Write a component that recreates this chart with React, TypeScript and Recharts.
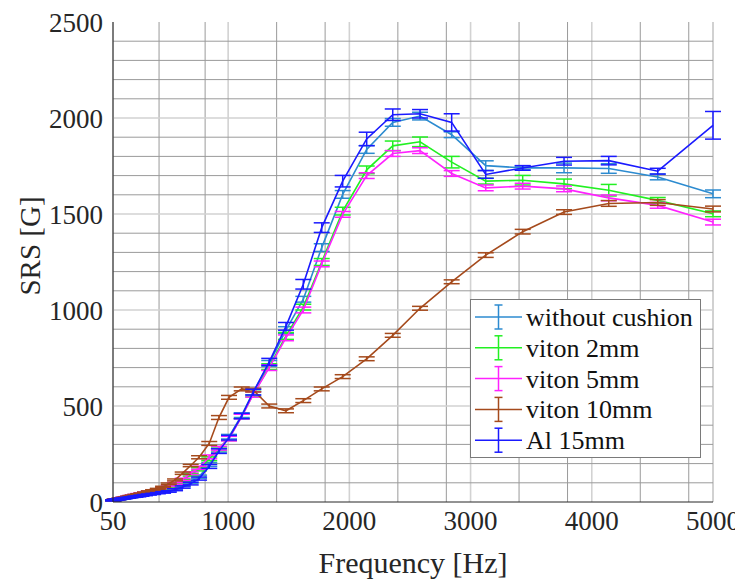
import { LineChart, Line, XAxis, YAxis, CartesianGrid, ErrorBar, ReferenceLine } from 'recharts'

const freqs = [
  50, 55, 61, 67, 74, 81, 90, 99, 109, 120, 132, 145, 160, 176, 194, 213, 235, 259, 285, 314,
  346, 381, 420, 463, 510, 562, 625, 691, 760, 844, 924, 1007, 1112, 1207, 1339, 1477, 1620, 1772, 1945, 2143,
  2358, 2583, 2844, 3125, 3430, 3771, 4140, 4544, 5000,
]

const withoutCushion = [
  9, 9, 10, 11, 12, 13, 14, 15, 16, 18, 19, 20, 22, 24, 26, 28, 30, 33, 36, 39,
  43, 47, 51, 56, 63, 72, 86, 105, 132, 195, 270, 340, 452, 572, 722, 895, 1056, 1325, 1602, 1836,
  1977, 2010, 1913, 1752, 1740, 1740, 1737, 1693, 1605,
]
const withoutCushionErr = [
  2, 2, 2, 2, 2, 2, 2, 2, 2, 2, 2, 2, 2, 2, 2, 2, 2, 2, 2, 2,
  3, 3, 3, 4, 4, 5, 6, 7, 8, 10, 10, 12, 12, 14, 15, 18, 15, 20, 20, 20,
  20, 20, 15, 25, 10, 25, 25, 15, 20,
]

const viton2 = [
  9, 10, 11, 12, 13, 14, 15, 16, 18, 19, 21, 23, 25, 28, 31, 34, 37, 40, 44, 48,
  53, 58, 63, 70, 80, 92, 112, 142, 170, 225, 278, 332, 446, 562, 705, 865, 1015, 1250, 1515, 1730,
  1855, 1876, 1770, 1671, 1676, 1657, 1624, 1571, 1501,
]
const viton2Err = [
  2, 2, 2, 2, 2, 2, 2, 2, 2, 2, 2, 2, 2, 2, 2, 2, 2, 2, 2, 2,
  3, 3, 3, 4, 4, 5, 6, 7, 8, 10, 10, 12, 12, 14, 15, 18, 15, 18, 20, 20,
  25, 25, 30, 15, 25, 25, 30, 15, 15,
]

const viton5 = [
  9, 10, 11, 12, 13, 14, 15, 17, 18, 20, 22, 24, 26, 29, 32, 35, 38, 42, 46, 50,
  55, 60, 66, 74, 85, 97, 118, 150, 178, 235, 280, 330, 445, 560, 700, 855, 1000, 1240, 1498, 1700,
  1815, 1830, 1711, 1636, 1645, 1631, 1584, 1545, 1458,
]
const viton5Err = [
  2, 2, 2, 2, 2, 2, 2, 2, 2, 2, 2, 2, 2, 2, 2, 2, 2, 2, 2, 2,
  3, 3, 3, 4, 4, 5, 6, 7, 8, 10, 10, 12, 12, 14, 15, 15, 15, 15, 15, 15,
  15, 15, 15, 15, 15, 15, 15, 15, 15,
]

const viton10 = [
  9, 10, 11, 12, 13, 14, 15, 16, 18, 19, 21, 23, 25, 28, 31, 34, 37, 41, 45, 50,
  55, 61, 68, 78, 95, 115, 150, 190, 233, 305, 440, 545, 589, 583, 500, 475, 528, 589, 653, 746,
  868, 1009, 1147, 1286, 1408, 1510, 1555, 1560, 1526,
]
const viton10Err = [
  2, 2, 2, 2, 2, 2, 2, 2, 2, 2, 2, 2, 2, 2, 2, 2, 2, 2, 2, 2,
  3, 3, 3, 4, 4, 5, 6, 6, 8, 10, 10, 10, 10, 10, 10, 10, 10, 10, 10, 10,
  10, 10, 10, 12, 12, 12, 15, 15, 15,
]

const al15 = [
  8, 9, 10, 11, 12, 13, 14, 15, 16, 17, 18, 19, 21, 22, 24, 26, 28, 30, 33, 36,
  39, 42, 46, 50, 55, 64, 78, 96, 122, 185, 265, 335, 448, 572, 730, 915, 1134, 1429, 1671, 1891,
  2017, 2022, 1977, 1706, 1740, 1775, 1778, 1723, 1962,
]
const al15Err = [
  2, 2, 2, 2, 2, 2, 2, 2, 2, 2, 2, 2, 2, 2, 2, 2, 3, 3, 3, 3,
  3, 3, 3, 4, 4, 5, 6, 7, 8, 10, 12, 12, 14, 15, 18, 20, 25, 25, 30, 35,
  30, 22, 45, 20, 12, 20, 22, 15, 72,
]

const xTicks = [50, 1000, 2000, 3000, 4000, 5000]
const xMinorTicks = [240, 430, 620, 810, 1200, 1400, 1600, 1800, 2200, 2400, 2600, 2800, 3200, 3400, 3600, 3800, 4200, 4400, 4600, 4800]
const yTicks = [0, 500, 1000, 1500, 2000, 2500]
const yMinorTicks = [100, 200, 300, 400, 600, 700, 800, 900, 1100, 1200, 1300, 1400, 1600, 1700, 1800, 1900, 2100, 2200, 2300, 2400]

const series = [
  { key: 'wc', name: 'without cushion', color: '#2c8bd0' },
  { key: 'v2', name: 'viton 2mm', color: '#22f022' },
  { key: 'v5', name: 'viton 5mm', color: '#ff22ff' },
  { key: 'v10', name: 'viton 10mm', color: '#a54a1c' },
  { key: 'al', name: 'Al 15mm', color: '#1a1aff' },
]

const rows = freqs.map((f, i) => ({
  f,
  wc: withoutCushion[i], wcErr: withoutCushionErr[i],
  v2: viton2[i], v2Err: viton2Err[i],
  v5: viton5[i], v5Err: viton5Err[i],
  v10: viton10[i], v10Err: viton10Err[i],
  al: al15[i], alErr: al15Err[i],
}))

const FONT = 'Liberation Serif, DejaVu Serif, serif'
const INK = '#262626'
const MINOR = '#9a9a9a'
const MAJOR = '#d2d2d2'

function ChartLegend() {
  return (
    <svg width={231} height={159} style={{ position: 'absolute', left: 462, top: 291 }}>
      <rect x={0.5} y={0.5} width={230} height={158} fill="#fff" stroke="#7a7a7a" />
      {series.map((s, i) => {
        const y = 18 + i * 30.8
        return (
          <g key={s.key}>
            <line x1={5} x2={52} y1={y} y2={y} stroke={s.color} strokeWidth={1.5} />
            <line x1={28.5} x2={28.5} y1={y - 12} y2={y + 12} stroke={s.color} strokeWidth={1.5} />
            <line x1={24.5} x2={32.5} y1={y - 12} y2={y - 12} stroke={s.color} strokeWidth={1.5} />
            <line x1={24.5} x2={32.5} y1={y + 12} y2={y + 12} stroke={s.color} strokeWidth={1.5} />
            <text x={56} y={y + 9} fontSize={26} style={{ fontFamily: FONT }} fill="#111">{s.name}</text>
          </g>
        )
      })}
    </svg>
  )
}

export default function App() {
  return (
    <div style={{ position: 'relative', width: 735, height: 574, fontFamily: FONT }}>
      <LineChart
        width={735}
        height={574}
        data={rows}
        margin={{ top: 14, right: 30, left: 0, bottom: 0 }}
        style={{ fontFamily: FONT }}
      >
        <XAxis
          xAxisId="x"
          type="number"
          dataKey="f"
          domain={[50, 5000]}
          ticks={xTicks}
          interval={0}
          height={80}
          tickLine={false}
          tickSize={6}
          tickMargin={3}
          axisLine={{ stroke: INK }}
          tick={{ fill: INK, fontSize: 27, style: { fontFamily: FONT } }}
          label={{ value: 'Frequency [Hz]', position: 'insideBottom', offset: 9, fill: INK, fontSize: 30, style: { fontFamily: FONT } }}
        />
        <YAxis
          yAxisId="y"
          type="number"
          domain={[0, 2500]}
          ticks={yTicks}
          interval={0}
          width={105}
          tickLine={false}
          tickSize={6}
          tickMargin={4}
          axisLine={{ stroke: INK }}
          tick={{ fill: INK, fontSize: 27, style: { fontFamily: FONT } }}
          label={({ viewBox }: any) => {
            const cx = viewBox.x + 32
            const cy = viewBox.y + viewBox.height / 2 - 16
            return (
              <text x={cx} y={cy} transform={`rotate(-90 ${cx} ${cy})`} textAnchor="middle" fontSize={29} style={{ fontFamily: FONT }} fill={INK}>
                SRS [G]
              </text>
            )
          }}
        />
        <XAxis xAxisId="top" orientation="top" type="number" domain={[50, 5000]} height={0} tick={false} tickLine={false} axisLine={{ stroke: INK }} />
        <YAxis yAxisId="right" orientation="right" type="number" domain={[0, 2500]} width={0} tick={false} tickLine={false} axisLine={{ stroke: INK }} />
        <XAxis xAxisId="minor" type="number" dataKey="f" domain={[50, 5000]} ticks={xMinorTicks} height={0} hide />
        <CartesianGrid xAxisId="minor" yAxisId="y" horizontal={false} stroke={MINOR} strokeWidth={1} />
        <CartesianGrid xAxisId="x" yAxisId="y" horizontal={false} stroke={MAJOR} strokeWidth={1.6} />
        {yMinorTicks.map((v) => (
          <ReferenceLine key={`ym${v}`} xAxisId="x" yAxisId="y" y={v} stroke={MINOR} strokeWidth={1} />
        ))}
        {yTicks.slice(1, -1).map((v) => (
          <ReferenceLine key={`yM${v}`} xAxisId="x" yAxisId="y" y={v} stroke={MAJOR} strokeWidth={1.6} />
        ))}
        {series.map((s) => (
          <Line
            key={s.key}
            xAxisId="x"
            yAxisId="y"
            type="linear"
            dataKey={s.key}
            name={s.name}
            stroke={s.color}
            strokeWidth={1.6}
            dot={false}
            activeDot={false}
            isAnimationActive={false}
          >
            <ErrorBar dataKey={`${s.key}Err`} direction="y" width={8} stroke={s.color} strokeWidth={1.5} isAnimationActive={false} />
          </Line>
        ))}
      </LineChart>
      <ChartLegend />
    </div>
  )
}
